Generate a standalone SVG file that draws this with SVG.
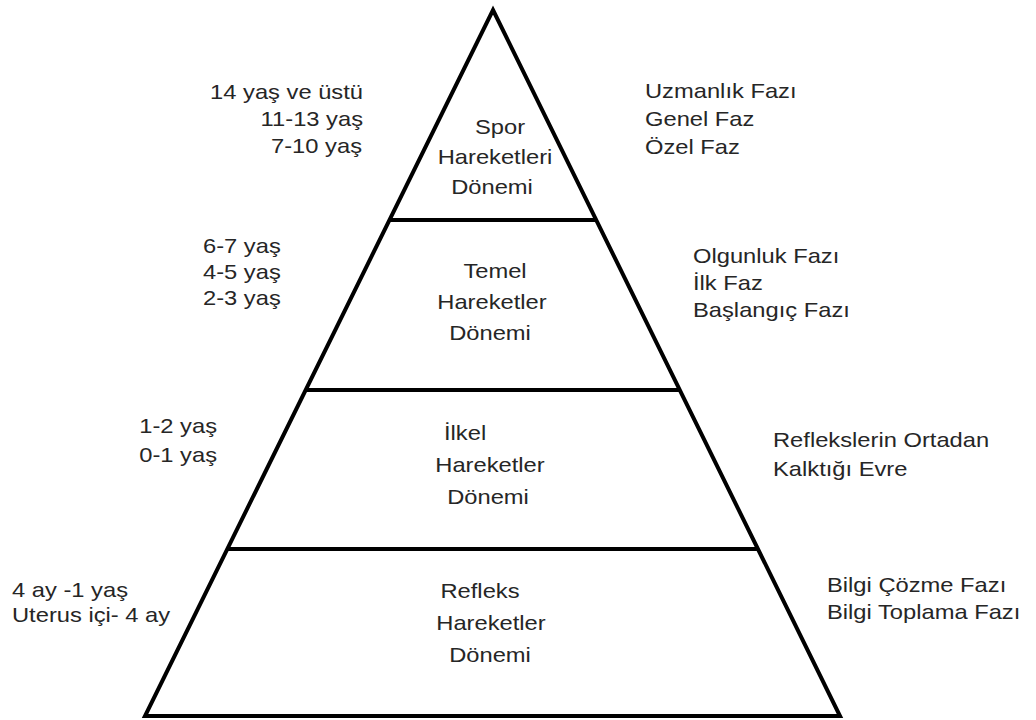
<svg xmlns="http://www.w3.org/2000/svg" width="1036" height="720" viewBox="0 0 1036 720">
<style>
text{font-family:"Liberation Sans",Arial,sans-serif;font-size:21px;fill:#262626}
.c{text-anchor:middle}
.e{text-anchor:end}
.ln{stroke:#000;stroke-width:4;fill:none}
</style>
<rect width="1036" height="720" fill="#fff"/>
<g id="connectors">
<polygon class="ln" points="493,10 840,716 145,716" stroke-linejoin="miter"/>
<line class="ln" x1="390" y1="220" x2="596" y2="220"/>
<line class="ln" x1="306" y1="390" x2="680" y2="390"/>
<line class="ln" x1="228" y1="549" x2="758" y2="549"/>
</g>
<g id="tier-spor">
<text class="c" transform="translate(500,134) scale(1.13,1)">Spor</text>
<text class="c" transform="translate(495,164) scale(1.13,1)">Hareketleri</text>
<text class="c" transform="translate(492,194) scale(1.13,1)">Dönemi</text>
</g>
<g id="tier-temel">
<text class="c" transform="translate(495,278) scale(1.13,1)">Temel</text>
<text class="c" transform="translate(492,309) scale(1.13,1)">Hareketler</text>
<text class="c" transform="translate(490,340) scale(1.13,1)">Dönemi</text>
</g>
<g id="tier-ilkel">
<text transform="translate(444,440) scale(1.13,1)">İlkel</text>
<text class="c" transform="translate(490,472) scale(1.13,1)">Hareketler</text>
<text class="c" transform="translate(488,504) scale(1.13,1)">Dönemi</text>
</g>
<g id="tier-refleks">
<text class="c" transform="translate(480,598) scale(1.13,1)">Refleks</text>
<text class="c" transform="translate(491,630) scale(1.13,1)">Hareketler</text>
<text class="c" transform="translate(490,662) scale(1.13,1)">Dönemi</text>
</g>
<g id="ages-spor">
<text class="e" transform="translate(363,99) scale(1.13,1)">14 yaş ve üstü</text>
<text class="e" transform="translate(363,126) scale(1.13,1)">11-13 yaş</text>
<text class="e" transform="translate(362,153) scale(1.13,1)">7-10 yaş</text>
</g>
<g id="ages-temel">
<text transform="translate(203,253) scale(1.13,1)">6-7 yaş</text>
<text transform="translate(203,279) scale(1.13,1)">4-5 yaş</text>
<text transform="translate(203,305) scale(1.13,1)">2-3 yaş</text>
</g>
<g id="ages-ilkel">
<text class="e" transform="translate(217,433) scale(1.13,1)">1-2 yaş</text>
<text class="e" transform="translate(217,462) scale(1.13,1)">0-1 yaş</text>
</g>
<g id="ages-refleks">
<text transform="translate(12,597) scale(1.13,1)">4 ay -1 yaş</text>
<text transform="translate(12,622) scale(1.13,1)">Uterus içi- 4 ay</text>
</g>
<g id="phases-spor">
<text transform="translate(645,98) scale(1.13,1)">Uzmanlık Fazı</text>
<text transform="translate(645,126) scale(1.13,1)">Genel Faz</text>
<text transform="translate(645,154) scale(1.13,1)">Özel Faz</text>
</g>
<g id="phases-temel">
<text transform="translate(693,263) scale(1.13,1)">Olgunluk Fazı</text>
<text transform="translate(693,290) scale(1.13,1)">İlk Faz</text>
<text transform="translate(693,317) scale(1.13,1)">Başlangıç Fazı</text>
</g>
<g id="phases-ilkel">
<text transform="translate(773,447) scale(1.13,1)">Reflekslerin Ortadan</text>
<text transform="translate(773,476) scale(1.13,1)">Kalktığı Evre</text>
</g>
<g id="phases-refleks">
<text transform="translate(827,592) scale(1.13,1)">Bilgi Çözme Fazı</text>
<text transform="translate(827,619) scale(1.13,1)">Bilgi Toplama Fazı</text>
</g>
</svg>
